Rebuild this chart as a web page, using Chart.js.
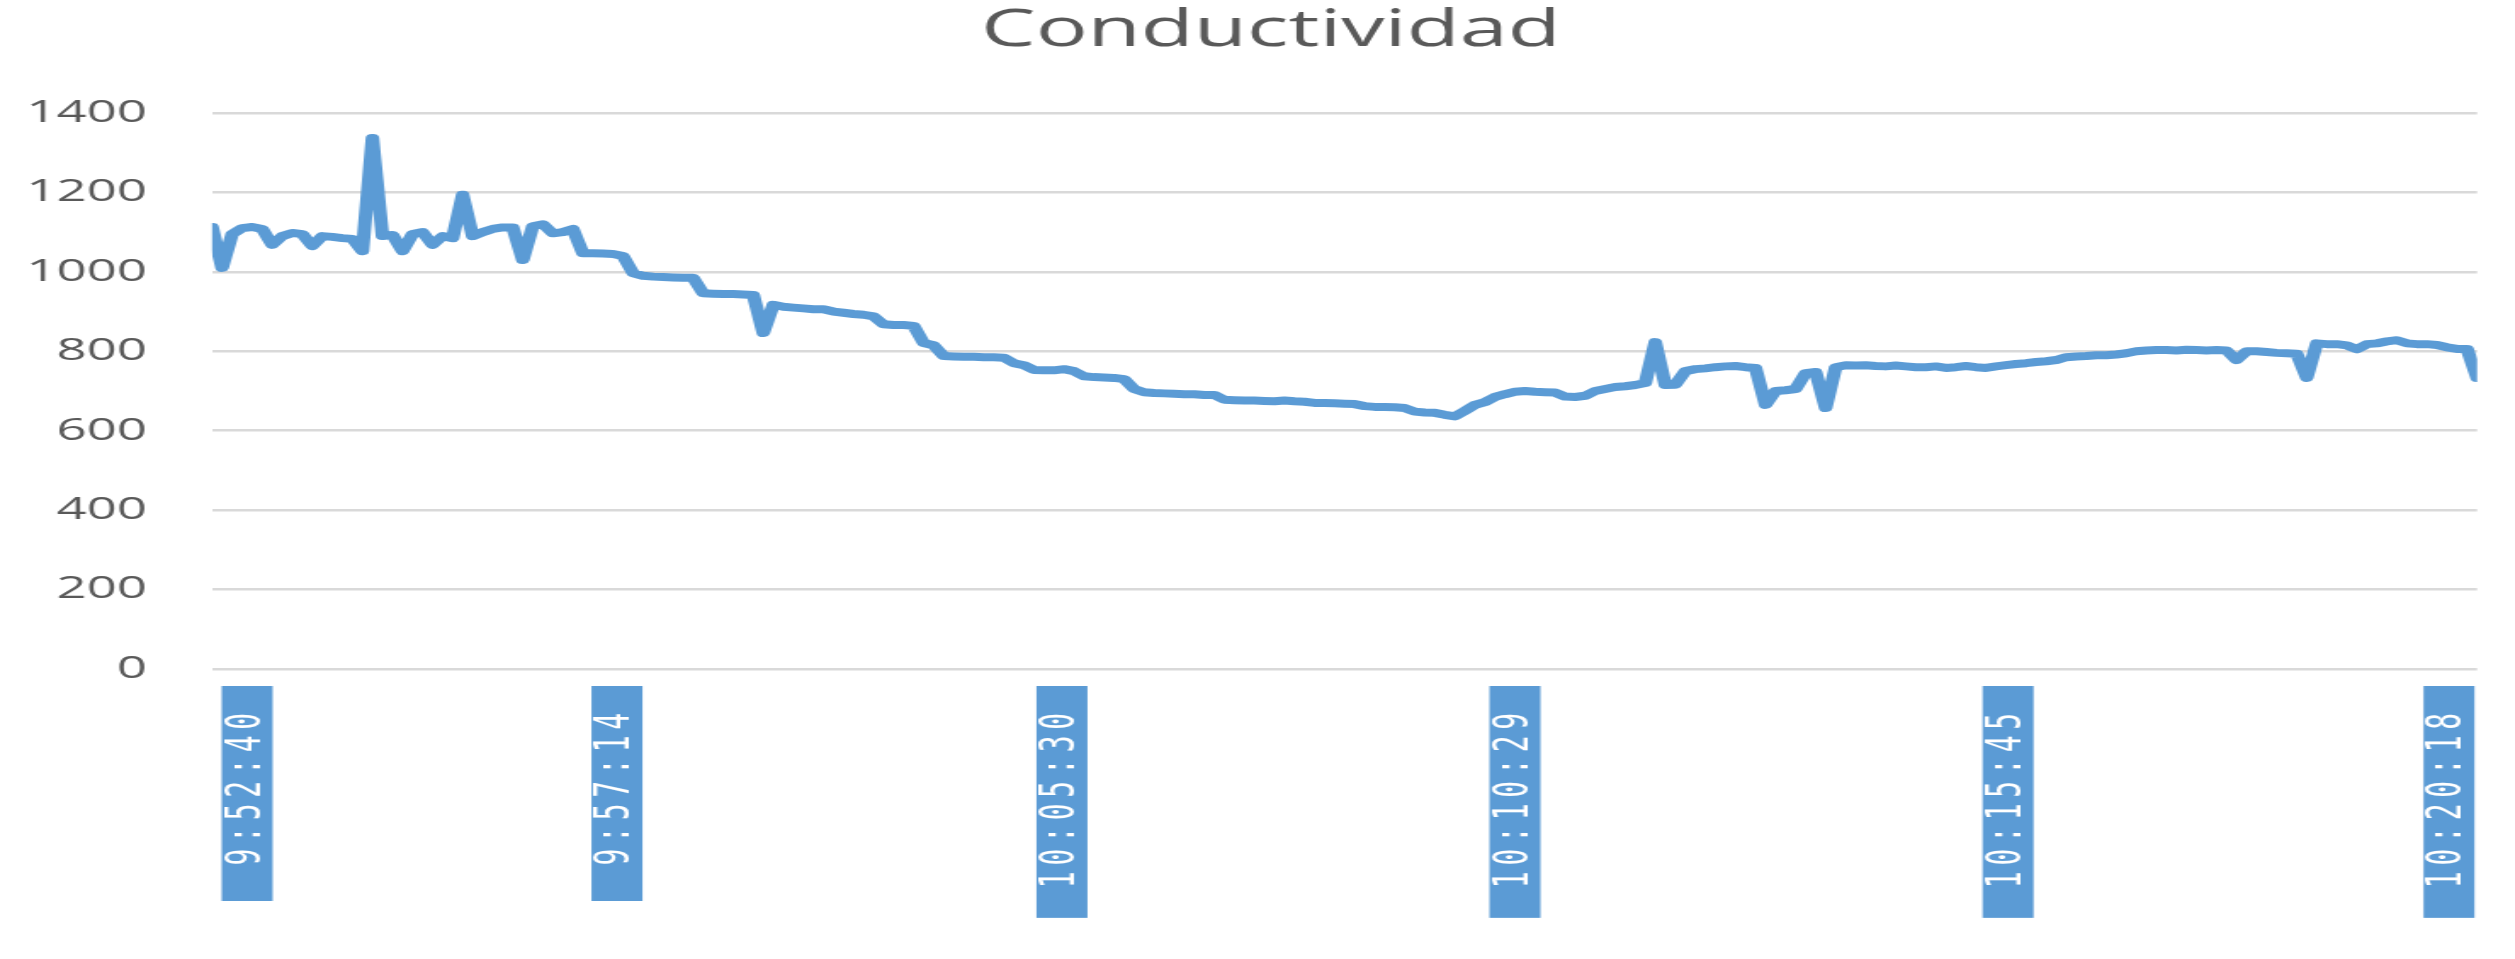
<!DOCTYPE html>
<html lang="es">
<head>
<meta charset="utf-8">
<title>Conductividad</title>
<script src="https://cdn.jsdelivr.net/npm/chart.js@4.4.1/dist/chart.umd.min.js"></script>
<style>
  html, body { margin: 0; padding: 0; background: #ffffff; overflow: hidden; }
  /* the original picture is stretched sideways, so the chart is drawn narrow and widened */
  #wrap { width: 1515px; height: 959px; transform: scaleX(1.6993); transform-origin: 0 0; }
</style>
</head>
<body>
<div id="wrap"><canvas id="lineChart" width="1515" height="959"></canvas></div>
<script>
// Etiquetas de hora visibles en el eje X y su posicion (indice de muestra)
const tickLabels = ["9:52:40", "9:57:14", "10:05:30", "10:10:29", "10:15:45", "10:20:18"];
const tickIndex = [3.5, 40.4, 84.8, 130.0, 179.2, 223.2];

// Lecturas de conductividad, una por muestra
const conductividad = [
    1113, 1010, 1095, 1110, 1113, 1108, 1068, 1090, 1098, 1095,
    1065, 1090, 1088, 1085, 1083, 1052, 1337, 1090, 1093, 1052,
    1095, 1100, 1068, 1090, 1085, 1194, 1090, 1100, 1108, 1112,
    1112, 1030, 1115, 1120, 1097, 1100, 1108, 1047, 1047, 1046,
    1045, 1040, 997, 990, 988, 987, 986, 985, 985, 946,
    945, 944, 944, 943, 942, 846, 917, 912, 910, 908,
    906, 906, 900, 897, 894, 892, 888, 868, 866, 866,
    864, 821, 815, 788, 787, 786, 786, 785, 785, 784,
    770, 765, 753, 752, 752, 755, 750, 737, 735, 734,
    733, 730, 705, 697, 695, 694, 693, 692, 692, 690,
    690, 678, 677, 676, 676, 675, 674, 676, 674, 673,
    670, 670, 669, 668, 667, 662, 660, 660, 659, 657,
    648, 646, 645, 640, 636, 650, 665, 672, 685, 692,
    698, 700, 698, 697, 696, 686, 685, 688, 700, 705,
    710, 712, 715, 720, 823, 715, 716, 750, 755, 757,
    760, 762, 763, 760, 758, 665, 700, 702, 705, 745,
    748, 657, 760, 765, 764, 765, 763, 762, 764, 762,
    760, 760, 762, 758, 760, 763, 760, 758, 762, 765,
    768, 770, 773, 775, 778, 785, 787, 788, 790, 790,
    792, 795, 800, 802, 803, 803, 802, 804, 803, 802,
    803, 802, 778, 800, 800, 798, 796, 795, 794, 733,
    820, 818, 818, 815, 805, 818, 820, 825, 828, 820,
    818, 818, 816, 810, 806, 806, 733
];

document.addEventListener("DOMContentLoaded", function () {
    const ctx = document.getElementById("lineChart").getContext("2d");

    // Espaciado de letras solo para las etiquetas del eje X (se dibujan despues de la linea)
    const tickSpacing = {
        id: "tickSpacing",
        afterDatasetsDraw(chart) { chart.ctx.letterSpacing = "5.8px"; },
        afterDraw(chart) { chart.ctx.letterSpacing = "0px"; }
    };

    new Chart(ctx, {
        type: "line",
        data: {
            datasets: [{
                label: "Conductividad",
                data: conductividad.map((v, i) => ({ x: i, y: v })),
                borderColor: "#5b9bd5",
                borderWidth: 8,
                borderJoinStyle: "round",
                borderCapStyle: "round",
                pointRadius: 0,
                tension: 0,
                fill: false,
                yAxisID: "y"
            }]
        },
        plugins: [tickSpacing],
        options: {
            responsive: false,
            animation: false,
            devicePixelRatio: 1,
            layout: { padding: { left: 0, right: 19.3, top: 0, bottom: 0 } },
            plugins: {
                legend: { display: false },
                tooltip: { enabled: false },
                title: {
                    display: true,
                    text: "Conductividad",
                    color: "#595959",
                    font: { family: "'Open Sans'", size: 51, weight: "normal" },
                    padding: { top: 1, bottom: 50.8 }
                }
            },
            scales: {
                x: {
                    type: "linear",
                    min: 0,
                    max: conductividad.length - 1,
                    grid: { display: false, drawTicks: false },
                    border: { display: false },
                    afterBuildTicks: (scale) => {
                        scale.ticks = tickIndex.map((v) => ({ value: v }));
                    },
                    afterFit: (scale) => { scale.height = 290; },
                    ticks: {
                        z: 1,
                        autoSkip: false,
                        minRotation: 90,
                        maxRotation: 90,
                        padding: 38,
                        labelOffset: -14,
                        color: "#ffffff",
                        font: { family: "'DejaVu Sans Mono'", size: 28, lineHeight: 1.0 },
                        showLabelBackdrop: true,
                        backdropColor: "#5b9bd5",
                        backdropPadding: { top: 1, bottom: 1, left: 76, right: 21 },
                        callback: (value, index) => tickLabels[index]
                    }
                },
                y: {
                    min: 0,
                    max: 1400,
                    grid: { color: "#d9d9d9", lineWidth: 2.5, drawTicks: false },
                    border: { display: false },
                    afterFit: (scale) => { scale.width = 124.8; },
                    ticks: {
                        stepSize: 200,
                        padding: 38.3,
                        color: "#595959",
                        font: { family: "'Open Sans'", size: 31 },
                        callback: (value) => String(value)
                    }
                },
                // eje vacio a la derecha: solo reserva el margen del grafico
                yRight: {
                    position: "right",
                    grid: { display: false, drawTicks: false },
                    border: { display: false },
                    ticks: { display: false },
                    afterFit: (scale) => { scale.width = 38; }
                }
            }
        }
    });
});
</script>
</body>
</html>
